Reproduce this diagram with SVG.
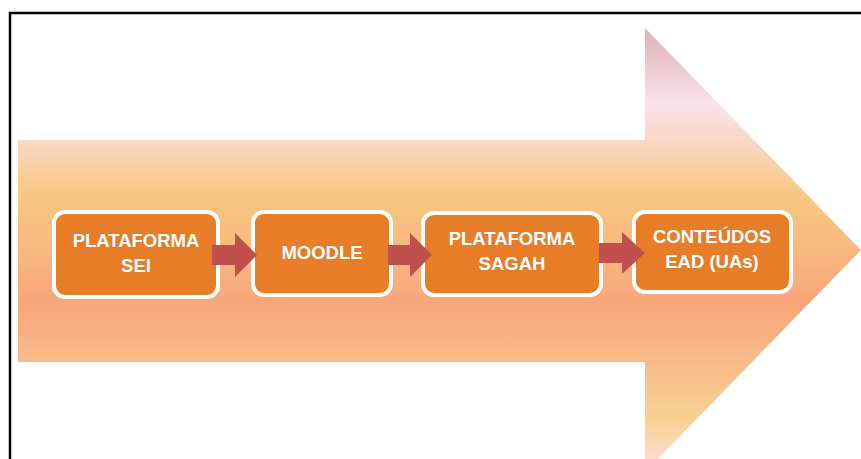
<svg xmlns="http://www.w3.org/2000/svg" width="861" height="459" viewBox="0 0 861 459">
  <defs>
    <linearGradient id="bigGrad" gradientUnits="userSpaceOnUse" x1="0" y1="28" x2="0" y2="472">
      <stop offset="0" stop-color="#dfb0b8"/>
      <stop offset="0.17" stop-color="#f9e2ea"/>
      <stop offset="0.27" stop-color="#f9d6bc"/>
      <stop offset="0.38" stop-color="#f8c77f"/>
      <stop offset="0.5" stop-color="#f8b880"/>
      <stop offset="0.62" stop-color="#f8a67a"/>
      <stop offset="0.75" stop-color="#f8bb88"/>
      <stop offset="0.88" stop-color="#f9d092"/>
      <stop offset="1" stop-color="#fbe2dc"/>
    </linearGradient>
    <style>
      .box { fill: #e87d28; stroke: #ffffff; stroke-width: 4; }
      .conn { fill: #c0504d; }
      .lbl { font-family: "Liberation Sans", Arial, sans-serif; font-weight: bold; font-size: 18.5px; fill: #ffffff; text-anchor: middle; }
    </style>
  </defs>
  <rect x="0" y="0" width="861" height="459" fill="#ffffff"/>
  <!-- frame -->
  <path d="M10,460 V13 H862" fill="none" stroke="#000000" stroke-width="2.5"/>
  <!-- big background arrow -->
  <path d="M18,140 H645 V28 L861,250 L645,472 V362 H18 Z" fill="url(#bigGrad)"/>

  <g id="node-sei">
    <rect class="box" x="54" y="212" width="164" height="85" rx="11"/>
    <text class="lbl" x="136" y="247">PLATAFORMA</text>
    <text class="lbl" x="136" y="272">SEI</text>
  </g>
  <g id="node-moodle">
    <rect class="box" x="253" y="212" width="138" height="83" rx="11"/>
    <text class="lbl" x="322" y="259">MOODLE</text>
  </g>
  <g id="node-sagah">
    <rect class="box" x="423" y="213" width="178" height="82" rx="11"/>
    <text class="lbl" x="512" y="245">PLATAFORMA</text>
    <text class="lbl" x="512" y="270">SAGAH</text>
  </g>
  <g id="node-conteudos">
    <rect class="box" x="634" y="212" width="157" height="80" rx="11"/>
    <text class="lbl" x="712" y="243">CONTEÚDOS</text>
    <text class="lbl" x="712" y="268">EAD (UAs)</text>
  </g>

  <g id="connectors">
    <path class="conn" d="M212,245 H235 V233 L257,255 L235,277 V265 H212 Z"/>
    <path class="conn" d="M388,245 H410 V233 L432,255 L410,277 V265 H388 Z"/>
    <path class="conn" d="M599,243 H622 V232 L645,253 L622,274 V263 H599 Z"/>
  </g>
</svg>
